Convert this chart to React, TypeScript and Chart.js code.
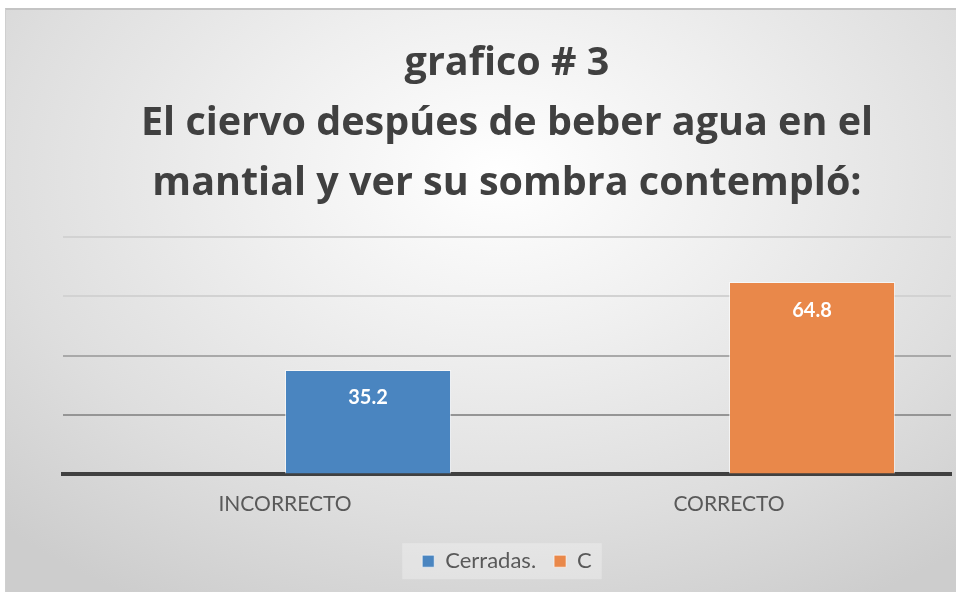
import React, { useEffect, useRef } from "react";
import { Chart, registerables } from "chart.js";

Chart.register(...registerables);

const categories = ["INCORRECTO", "CORRECTO"];
const cerradasValues = [35.2, null];
const cValues = [null, 64.8];
const titleLines = [
  "grafico # 3",
  "El ciervo despúes de beber agua en el",
  "mantial y ver su sombra contempló:",
];
const yMax = 80;
const yStep = 20;

const BLUE = "#4A85C0";
const ORANGE = "#E9884A";

const gridColorFor = (v: number) => {
  if (v >= 60) return "#d2d2d2";
  if (v >= 40) return "#a9a9a9";
  if (v > 0) return "#959595";
  return "rgba(0,0,0,0)";
};

const dataLabelPlugin = {
  id: "dataLabels",
  afterDatasetsDraw(chart: any) {
    const ctx = chart.ctx;
    ctx.save();
    ctx.fillStyle = "#ffffff";
    ctx.font = "bold 20px Lato, 'Open Sans', sans-serif";
    ctx.textAlign = "center";
    ctx.textBaseline = "middle";
    chart.data.datasets.forEach((ds: any, di: number) => {
      if (!ds.label) return;
      const meta = chart.getDatasetMeta(di);
      meta.data.forEach((el: any, i: number) => {
        const v = ds.data[i];
        if (v === null || v === undefined) return;
        ctx.fillText(String(v), el.x, el.y + 28);
      });
    });
    ctx.restore();
  },
};

const legendBgPlugin = {
  id: "legendBg",
  beforeDraw(chart: any) {
    const lg = chart.legend;
    if (!lg || !lg.legendHitBoxes || !lg.legendHitBoxes.length) return;
    const boxes = lg.legendHitBoxes;
    const left = Math.min(...boxes.map((b: any) => b.left)) - 20;
    const right = Math.max(...boxes.map((b: any) => b.left + b.width)) + 10;
    const top = boxes[0].top - 7;
    const h = boxes[0].height + 14;
    const ctx = chart.ctx;
    ctx.save();
    ctx.fillStyle = "rgba(255,255,255,0.28)";
    ctx.fillRect(left, top, right - left, h);
    ctx.restore();
  },
};

export default function App() {
  const ref = useRef<HTMLCanvasElement | null>(null);

  useEffect(() => {
    if (!ref.current) return;
    const chart = new Chart(ref.current, {
      type: "bar",
      data: {
        labels: categories,
        datasets: [
          {
            label: "",
            data: [null, null],
            stack: "s0",
            backgroundColor: "rgba(0,0,0,0)",
          },
          {
            label: "Cerradas.",
            data: cerradasValues,
            stack: "s1",
            backgroundColor: BLUE,
            borderColor: "rgba(255,255,255,0.6)",
            borderWidth: 1,
          },
          {
            label: "C",
            data: cValues,
            stack: "s1",
            backgroundColor: ORANGE,
            borderColor: "rgba(255,255,255,0.6)",
            borderWidth: 1,
          },
        ] as any,
      },
      options: {
        animation: false,
        responsive: false,
        maintainAspectRatio: false,
        layout: { padding: { left: 57, right: 6, top: 0, bottom: 9.8 } },
        datasets: {
          bar: { categoryPercentage: 0.748, barPercentage: 1 },
        },
        plugins: {
          title: {
            display: true,
            text: titleLines,
            color: "#404040",
            font: { family: "'Open Sans', Lato, sans-serif", size: 39.5, weight: "bold", lineHeight: 60 / 39.5 },
            padding: { top: 26, bottom: 23 },
          },
          legend: {
            display: true,
            position: "bottom",
            labels: {
              color: "#595959",
              font: { family: "Lato, 'Open Sans', sans-serif", size: 22 },
              boxWidth: 12,
              boxHeight: 12,
              padding: 18,
              filter: (item: any) => item.text !== "",
            },
          },
          tooltip: { enabled: false },
        },
        scales: {
          x: {
            grid: { display: false, drawTicks: false },
            border: { display: true, color: "#404040", width: 4 },
            ticks: {
              color: "#595959",
              font: { family: "Lato, 'Open Sans', sans-serif", size: 21 },
              padding: 17.4,
            },
            afterFit: (scale: any) => {
              scale.height = 57.8;
            },
          },
          y: {
            min: 0,
            max: yMax,
            ticks: { display: false, stepSize: yStep },
            grid: {
              drawTicks: false,
              lineWidth: 2,
              color: (c: any) => gridColorFor(c.tick ? c.tick.value : 0),
            },
            border: { display: false },
          },
        },
      },
      plugins: [dataLabelPlugin, legendBgPlugin],
    });
    return () => chart.destroy();
  }, []);

  return (
    <div
      style={{
        position: "absolute",
        left: 0,
        top: 0,
        width: 956,
        height: 592,
        background: "#ffffff",
        overflow: "hidden",
      }}
    >
      <div
        style={{
          position: "absolute",
          left: 5,
          top: 8,
          width: 951,
          height: 584,
          boxSizing: "border-box",
          borderTop: "2px solid #c4c4c4",
          borderLeft: "1px solid #cfcfcf",
          background:
            "radial-gradient(ellipse 75% 85% at 52% 28%, #ffffff 0%, #efefef 35%, #dedede 70%, #cdcdcd 100%)",
        }}
      >
        <canvas
          ref={ref}
          width={951}
          height={584}
          style={{ position: "absolute", left: 0, top: -2, width: 951, height: 584 }}
        />
      </div>
    </div>
  );
}
